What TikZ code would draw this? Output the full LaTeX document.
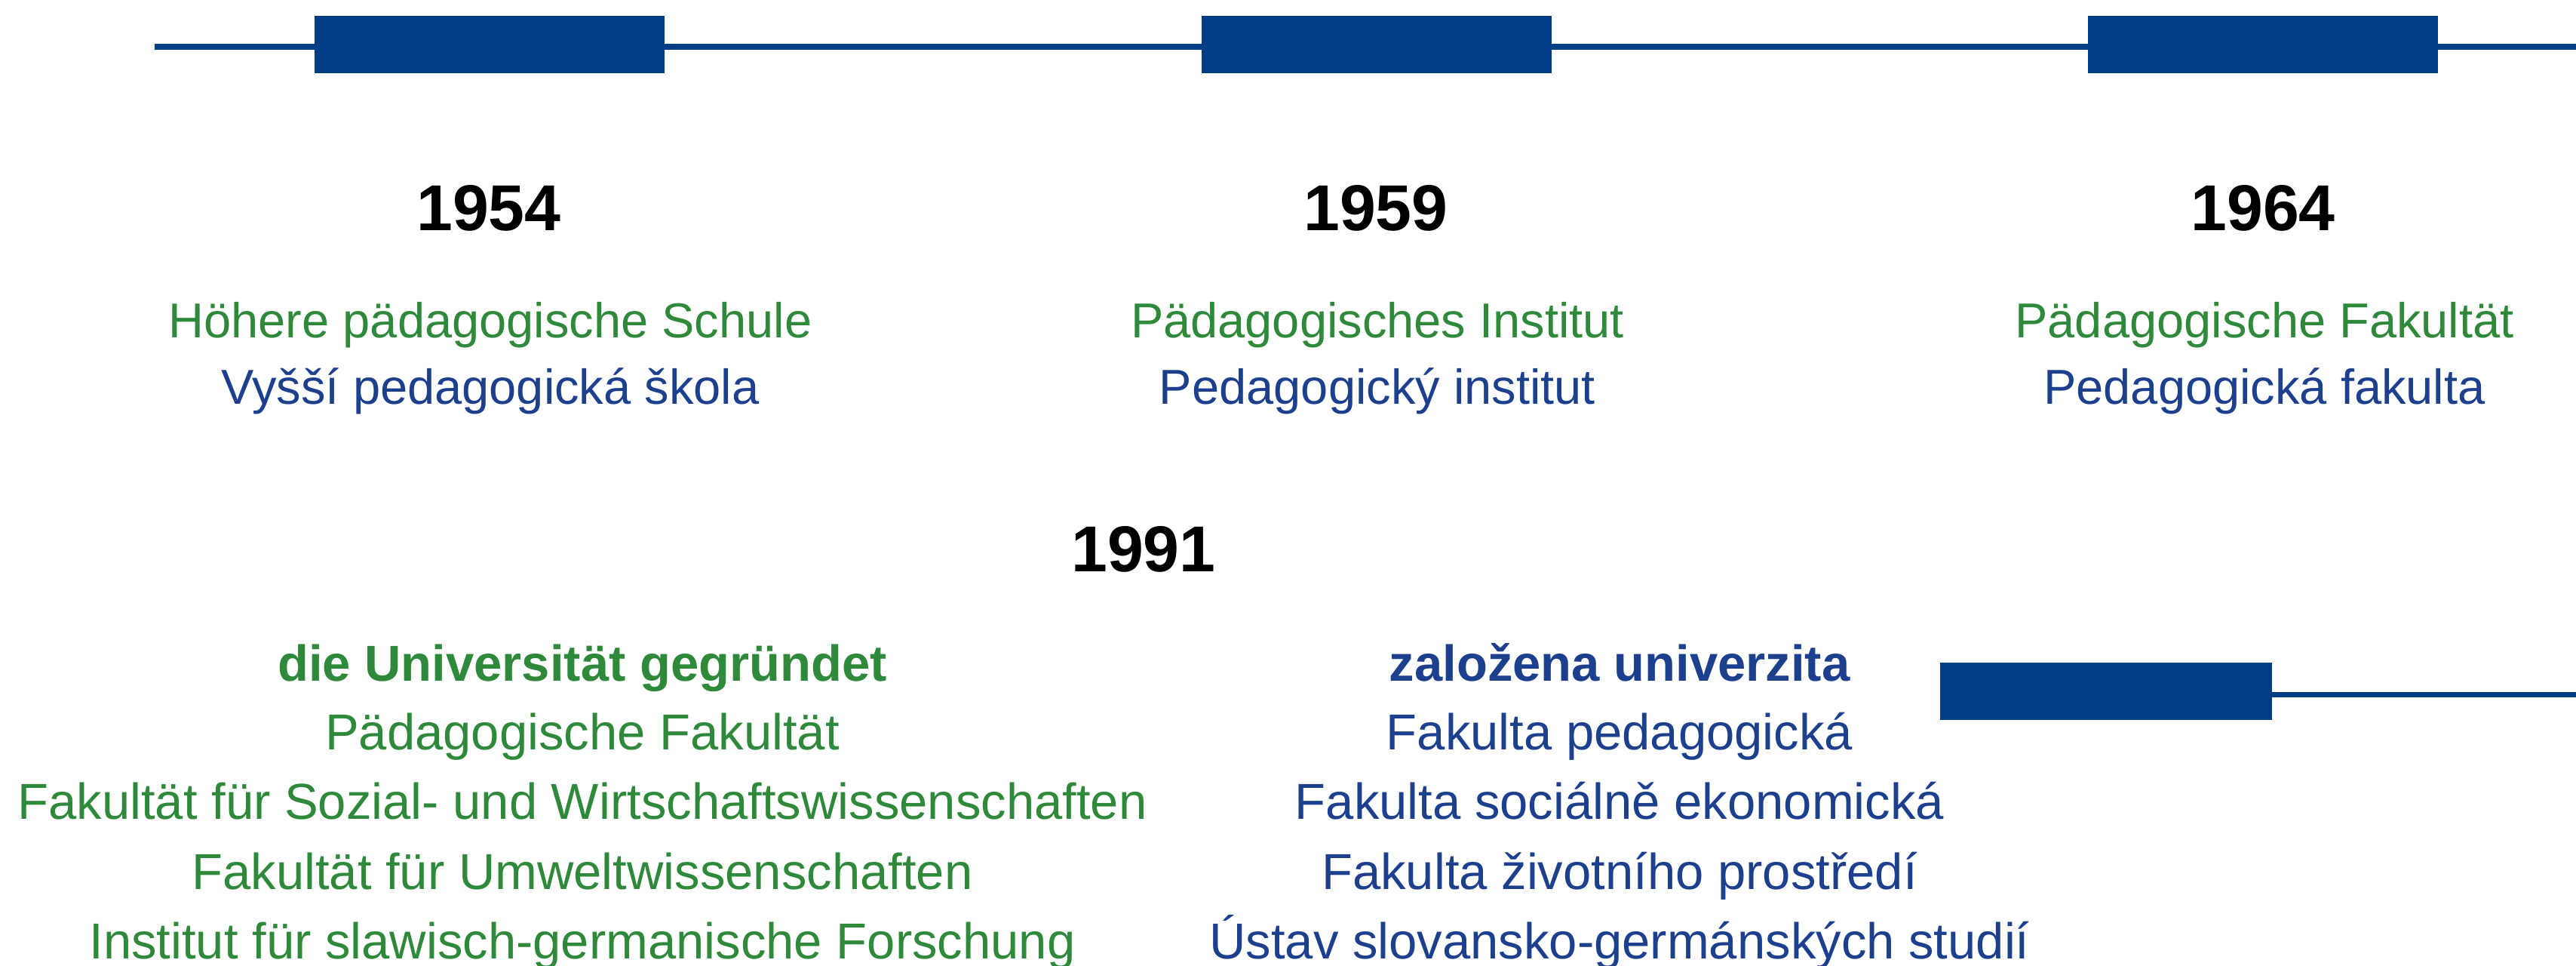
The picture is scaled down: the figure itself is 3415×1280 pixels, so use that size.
\documentclass[tikz,border=0pt]{standalone}
\usepackage{fontspec}
\setmainfont{Liberation Sans}
\definecolor{barblue}{RGB}{0,61,134}
\definecolor{degreen}{RGB}{46,137,58}
\definecolor{czblue}{RGB}{28,63,142}
\begin{document}
\begin{tikzpicture}[x=0.25pt,y=-0.25pt,
  bar/.style={fill=barblue,draw=none,inner sep=0pt,outer sep=0pt,minimum width=116pt,minimum height=19pt},
  axis/.style={draw=barblue,line width=2pt},
  year/.style={anchor=base,inner sep=0pt,text=black,font=\fontsize{21.5pt}{26pt}\selectfont\bfseries},
  detop/.style={anchor=base,inner sep=0pt,text=degreen,font=\fontsize{16.25pt}{20pt}\selectfont},
  cztop/.style={anchor=base,inner sep=0pt,text=czblue,font=\fontsize{16.25pt}{20pt}\selectfont},
  debot/.style={anchor=base,inner sep=0pt,text=degreen,font=\fontsize{16.75pt}{20pt}\selectfont},
  czbot/.style={anchor=base,inner sep=0pt,text=czblue,font=\fontsize{16.75pt}{20pt}\selectfont},
  debold/.style={debot,font=\fontsize{16.75pt}{20pt}\selectfont\bfseries},
  czbold/.style={czbot,font=\fontsize{16.75pt}{20pt}\selectfont\bfseries}]
\useasboundingbox (0,0) rectangle (3415,1280);
% top timeline
\coordinate (s1) at (205,62);
\coordinate (e1) at (3415,62);
\draw[axis] (s1) -- (e1);
\node[bar] (r1) at (649,59) {};
\node[bar] (r2) at (1825,59) {};
\node[bar] (r3) at (3000,59) {};
% bottom timeline
\node[bar,minimum width=110pt] (r4) at (2792,916) {};
\coordinate (e2) at (3415,920.5);
\draw[axis,line width=1.9pt] (r4.east |- e2) -- (e2);
% top columns
\node[year] (y1) at (648,306) {1954};
\node[detop] (d1) at (650,448) {Höhere pädagogische Schule};
\node[cztop] (c1) at (650,536) {Vyšší pedagogická škola};
\node[year] (y2) at (1824,306) {1959};
\node[detop] (d2) at (1826,448) {Pädagogisches Institut};
\node[cztop] (c2) at (1826,536) {Pedagogický institut};
\node[year] (y3) at (3000,306) {1964};
\node[detop] (d3) at (3002,448) {Pädagogische Fakultät};
\node[cztop] (c3) at (3002,536) {Pedagogická fakulta};
% 1991
\node[year] (y4) at (1516,758) {1991};
\node[debold] (dl1) at (772,903) {die Universität gegründet};
\node[debot] (dl2) at (772,994) {Pädagogische Fakultät};
\node[debot] (dl3) at (772,1086) {Fakultät für Sozial- und Wirtschaftswissenschaften};
\node[debot] (dl4) at (772,1178) {Fakultät für Umweltwissenschaften};
\node[debot] (dl5) at (772,1270) {Institut für slawisch-germanische Forschung};
\node[czbold] (cl1) at (2147,903) {založena univerzita};
\node[czbot] (cl2) at (2147,994) {Fakulta pedagogická};
\node[czbot] (cl3) at (2147,1086) {Fakulta sociálně ekonomická};
\node[czbot] (cl4) at (2147,1178) {Fakulta životního prostředí};
\node[czbot] (cl5) at (2147,1270) {Ústav slovansko-germánských studií};
\end{tikzpicture}
\end{document}
